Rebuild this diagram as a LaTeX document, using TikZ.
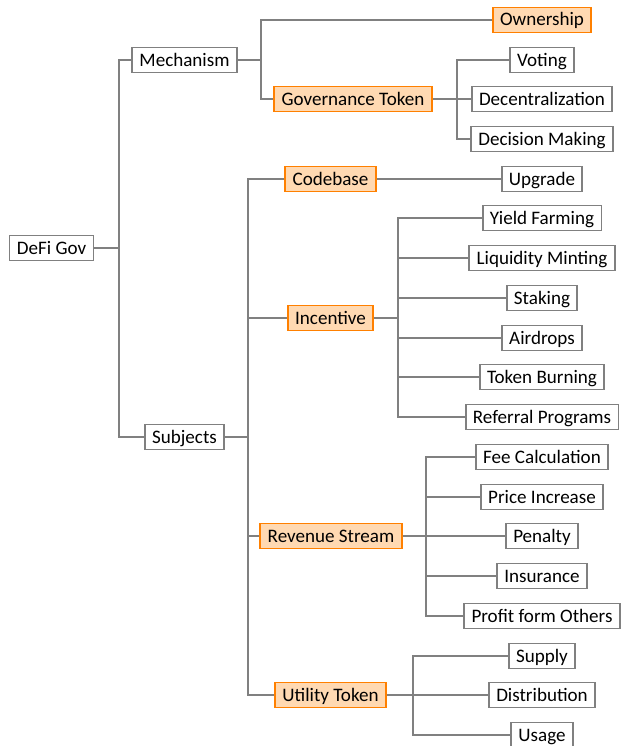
\documentclass[tikz,border=0pt]{standalone}
\usepackage{fontspec}
\setmainfont{Carlito}
\usepackage{tikz}
\definecolor{linegray}{RGB}{128,128,128}
\definecolor{boxorange}{RGB}{255,128,0}
\definecolor{boxfill}{RGB}{255,217,178}

\begin{document}
\begin{tikzpicture}[x=0.75pt, y=-0.75pt]
	\tikzset{
		leaf/.style = {rectangle, draw=linegray, line width=1.4pt, fill=white, text centered,
			minimum height=18.75pt, inner xsep=5.5pt, inner ysep=0pt,
			text height=11.5pt, text depth=2.5pt, font=\fontsize{14.3}{16}\selectfont},
		topic/.style = {leaf, draw=boxorange, fill=boxfill},
		branch/.style = {draw=linegray, line width=1.4pt}
	}
	\useasboundingbox (0,0) rectangle (621,746);
	% forks
	\coordinate (f0) at (119,0);
	\coordinate (f1) at (261,0);
	\coordinate (f2) at (457,0);
	\coordinate (f3) at (248,0);
	\coordinate (f4) at (398,0);
	\coordinate (f5) at (426,0);
	\coordinate (f6) at (413,0);
	% nodes
	\node[leaf] (root) at (51.5,248) {DeFi Gov};
	\node[leaf] (mech) at (184.5,60) {Mechanism};
	\node[leaf] (subj) at (184.5,437) {Subjects};
	\node[topic] (own) at (542,20) {Ownership};
	\node[topic] (gov) at (353,99) {Governance Token};
	\node[leaf] (voting) at (542,60) {Voting};
	\node[leaf] (decent) at (542,99) {Decentralization};
	\node[leaf] (decision) at (542,139) {Decision Making};
	\node[topic] (code) at (330.5,179) {Codebase};
	\node[leaf] (upgrade) at (542,179) {Upgrade};
	\node[topic] (incent) at (330.5,318) {Incentive};
	\node[leaf] (yield) at (542,218) {Yield Farming};
	\node[leaf] (liquid) at (542,258) {Liquidity Minting};
	\node[leaf] (staking) at (542,298) {Staking};
	\node[leaf] (airdrop) at (542,338) {Airdrops};
	\node[leaf] (burn) at (542,377) {Token Burning};
	\node[leaf] (referral) at (542,417) {Referral Programs};
	\node[topic] (revenue) at (331,536) {Revenue Stream};
	\node[leaf] (fee) at (542,457) {Fee Calculation};
	\node[leaf] (price) at (542,497) {Price Increase};
	\node[leaf] (penalty) at (542,536) {Penalty};
	\node[leaf] (insure) at (542,576) {Insurance};
	\node[leaf] (profit) at (542,616) {Profit form Others};
	\node[topic] (utility) at (330.5,695) {Utility Token};
	\node[leaf] (supply) at (542,656) {Supply};
	\node[leaf] (distrib) at (542,695) {Distribution};
	\node[leaf] (usage) at (542,735) {Usage};
	% connectors
	\draw[branch] (root.east) -- (root -| f0);
	\draw[branch] (mech.west) -| (f0 |- subj) -- (subj.west);
	\draw[branch] (mech.east) -- (mech -| f1);
	\draw[branch] (own.west) -| (f1 |- gov) -- (gov.west);
	\draw[branch] (gov.east) -- (gov -| f2);
	\draw[branch] (voting.west) -| (f2 |- decision) -- (decision.west);
	\draw[branch] (decent.west) -- (decent -| f2);
	\draw[branch] (subj.east) -- (subj -| f3);
	\draw[branch] (code.west) -| (f3 |- utility) -- (utility.west);
	\draw[branch] (incent.west) -- (incent -| f3);
	\draw[branch] (revenue.west) -- (revenue -| f3);
	\draw[branch] (code.east) -- (upgrade.west);
	\draw[branch] (incent.east) -- (incent -| f4);
	\draw[branch] (yield.west) -| (f4 |- referral) -- (referral.west);
	\foreach \n in {liquid, staking, airdrop, burn}
		\draw[branch] (\n.west) -- (\n -| f4);
	\draw[branch] (revenue.east) -- (revenue -| f5);
	\draw[branch] (fee.west) -| (f5 |- profit) -- (profit.west);
	\foreach \n in {price, penalty, insure}
		\draw[branch] (\n.west) -- (\n -| f5);
	\draw[branch] (utility.east) -- (utility -| f6);
	\draw[branch] (supply.west) -| (f6 |- usage) -- (usage.west);
	\draw[branch] (distrib.west) -- (distrib -| f6);
\end{tikzpicture}
\end{document}
